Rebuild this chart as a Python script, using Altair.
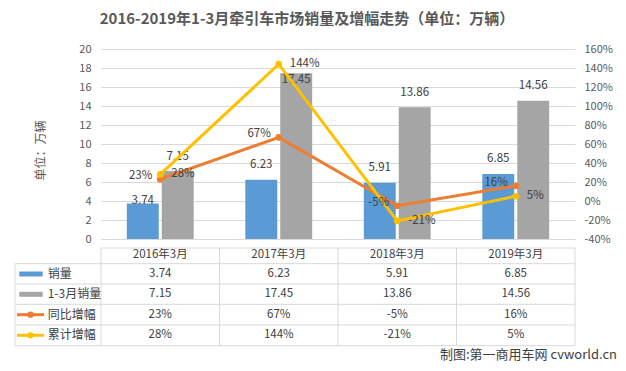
import altair as alt
import pandas as pd

# ---------------- data ----------------
categories = ["2016年3月", "2017年3月", "2018年3月", "2019年3月"]
sales_march = [3.74, 6.23, 5.91, 6.85]
sales_q1 = [7.15, 17.45, 13.86, 14.56]
growth_march = [23, 67, -5, 16]
growth_q1 = [28, 144, -21, 5]

bar_series = ["销量", "1-3月销量"]
line_series = ["同比增幅", "累计增幅"]
title_text = "2016-2019年1-3月牵引车市场销量及增幅走势（单位：万辆）"
y_title = "单位：万辆"
footer_text = "制图:第一商用车网 cvworld.cn"
left_ticks = [0, 2, 4, 6, 8, 10, 12, 14, 16, 18, 20]
right_ticks = [-40, -20, 0, 20, 40, 60, 80, 100, 120, 140, 160]

# ---------------- style ----------------
FONT = "Noto Sans CJK SC"
BLUE, GRAY, ORANGE, YELLOW = "#5B9BD5", "#A5A5A5", "#ED7D31", "#FFC000"
GRID = "#D9D9D9"
TXT = "#404040"
AX = "#595959"
W, H = 474, 190
LAB_FS = 11.5
CELL_FS = 11.5

bars_df = pd.DataFrame({
    "cat": categories * 2,
    "series": [bar_series[0]] * 4 + [bar_series[1]] * 4,
    "value": sales_march + sales_q1,
})
lines_df = pd.DataFrame({
    "cat": categories * 2,
    "series": [line_series[0]] * 4 + [line_series[1]] * 4,
    "pct": growth_march + growth_q1,
})
cat_df = pd.DataFrame({"cat": categories})

x_enc = alt.X("cat:N", scale=alt.Scale(domain=categories, paddingInner=0, paddingOuter=0), axis=None)
color_enc = alt.Color("series:N",
                      scale=alt.Scale(domain=bar_series + line_series, range=[BLUE, GRAY, ORANGE, YELLOW]),
                      legend=None)

# ---------------- bars ----------------
y_left = alt.Y("value:Q",
               scale=alt.Scale(domain=[0, 20], nice=False, zero=True),
               axis=alt.Axis(values=left_ticks, grid=True, gridColor=GRID, domain=False, ticks=False,
                             labelColor=AX, labelFontSize=11, labelPadding=10,
                             title=y_title, titleX=-61, titleY=101, titleAngle=270,
                             titleAlign="center", titleBaseline="middle", titleColor=AX,
                             titleFontSize=12, titleFontWeight="normal"))
xoff = alt.XOffset("series:N", scale=alt.Scale(domain=bar_series, paddingInner=0.0857, paddingOuter=0.739))

base_bar = alt.Chart(bars_df).encode(x=x_enc, xOffset=xoff, y=y_left)
bars = base_bar.mark_bar().encode(color=color_enc)

ex1 = f"datum.cat == '{categories[0]}' && datum.series == '{bar_series[0]}'"
ex2 = f"datum.cat == '{categories[1]}' && datum.series == '{bar_series[1]}'"
lab_style = dict(fontSize=LAB_FS, color=TXT, baseline="middle", align="center")
bar_labels = base_bar.mark_text(dy=-14.5, **lab_style).encode(
    text=alt.Text("value:Q", format=".2f")).transform_filter(f"!({ex1}) && !({ex2})")
bar_label_a = base_bar.mark_text(dy=-2, **lab_style).encode(
    text=alt.Text("value:Q", format=".2f")).transform_filter(ex1)
bar_label_b = base_bar.mark_text(dy=7, **lab_style).encode(
    text=alt.Text("value:Q", format=".2f")).transform_filter(ex2)

bar_group = alt.layer(bars, bar_labels, bar_label_a, bar_label_b)

# ---------------- lines ----------------
y_right = alt.Y("pct:Q",
                scale=alt.Scale(domain=[-40, 160], nice=False, zero=False),
                axis=alt.Axis(orient="right", values=right_ticks, labelExpr="datum.value + '%'",
                              grid=False, domain=False, ticks=False, labelColor=AX,
                              labelFontSize=11, labelPadding=9, title=None))
base_line = alt.Chart(lines_df).encode(x=x_enc, y=y_right, color=color_enc)
lines = base_line.mark_line(strokeWidth=3)
points = base_line.mark_circle(size=45, opacity=1)
pct_text = alt.Text("pct_label:N")
line_lab_a = base_line.mark_text(align="right", dx=-8, dy=-3, fontSize=LAB_FS, color=TXT, baseline="middle").encode(
    text=pct_text, color=alt.value(TXT)).transform_filter(
    f"datum.series == '{line_series[0]}'").transform_calculate(pct_label="datum.pct + '%'")
line_lab_b = base_line.mark_text(align="left", dx=11, dy=0, fontSize=LAB_FS, color=TXT, baseline="middle").encode(
    text=pct_text, color=alt.value(TXT)).transform_filter(
    f"datum.series == '{line_series[1]}'").transform_calculate(pct_label="datum.pct + '%'")

line_group = alt.layer(lines, points, line_lab_a, line_lab_b)

# ---------------- data table ----------------
row_header_y = 206
row_ys = [225, 245.3, 265.7, 286.3]
h_lines = [214.7, 235, 255.3, 276, 296.7]
table_top = 199
table_left = -86

layers = []
# horizontal lines
layers.append(alt.Chart(cat_df.head(1)).mark_rule(color=GRID, strokeWidth=1).encode(
    x=alt.value(0), x2=alt.value(W), y=alt.value(table_top)))
for hy in h_lines:
    layers.append(alt.Chart(cat_df.head(1)).mark_rule(color=GRID, strokeWidth=1).encode(
        x=alt.value(table_left), x2=alt.value(W), y=alt.value(hy)))
# vertical lines
layers.append(alt.Chart(cat_df).mark_rule(color=GRID, strokeWidth=1).encode(
    x=alt.X("cat:N", scale=alt.Scale(domain=categories, paddingInner=0, paddingOuter=0),
            axis=None, bandPosition=0),
    y=alt.value(table_top), y2=alt.value(h_lines[-1])))
layers.append(alt.Chart(cat_df.head(1)).mark_rule(color=GRID, strokeWidth=1).encode(
    x=alt.value(W), y=alt.value(table_top), y2=alt.value(h_lines[-1])))
layers.append(alt.Chart(cat_df.head(1)).mark_rule(color=GRID, strokeWidth=1).encode(
    x=alt.value(table_left), y=alt.value(h_lines[0]), y2=alt.value(h_lines[-1])))

cell_style = dict(fontSize=CELL_FS, color=TXT, baseline="middle", align="center")
# header
layers.append(alt.Chart(cat_df).mark_text(**cell_style).encode(
    x=x_enc, y=alt.value(row_header_y), text="cat:N"))
# value rows
layers.append(alt.Chart(bars_df).transform_filter(f"datum.series == '{bar_series[0]}'").mark_text(**cell_style).encode(
    x=x_enc, y=alt.value(row_ys[0]), text=alt.Text("value:Q", format=".2f")))
layers.append(alt.Chart(bars_df).transform_filter(f"datum.series == '{bar_series[1]}'").mark_text(**cell_style).encode(
    x=x_enc, y=alt.value(row_ys[1]), text=alt.Text("value:Q", format=".2f")))
layers.append(alt.Chart(lines_df).transform_filter(f"datum.series == '{line_series[0]}'").transform_calculate(
    pct_label="datum.pct + '%'").mark_text(**cell_style).encode(
    x=x_enc, y=alt.value(row_ys[2]), text="pct_label:N"))
layers.append(alt.Chart(lines_df).transform_filter(f"datum.series == '{line_series[1]}'").transform_calculate(
    pct_label="datum.pct + '%'").mark_text(**cell_style).encode(
    x=x_enc, y=alt.value(row_ys[3]), text="pct_label:N"))

# legend column
legend_names = bar_series + line_series
legend_colors = [BLUE, GRAY, ORANGE, YELLOW]
for i, (name, col) in enumerate(zip(legend_names, legend_colors)):
    ry = row_ys[i]
    one = pd.DataFrame({"name": [name]})
    if i < 2:
        layers.append(alt.Chart(one).mark_rect(color=col).encode(
            x=alt.value(-81.7), x2=alt.value(-58.3), y=alt.value(ry - 2.5), y2=alt.value(ry + 2.5)))
    else:
        layers.append(alt.Chart(one).mark_rule(color=col, strokeWidth=3).encode(
            x=alt.value(-84), x2=alt.value(-57), y=alt.value(ry)))
        layers.append(alt.Chart(one).mark_circle(color=col, size=40, opacity=1).encode(
            x=alt.value(-70.5), y=alt.value(ry)))
    layers.append(alt.Chart(one).mark_text(fontSize=12, color=TXT, align="left", baseline="middle").encode(
        x=alt.value(-53.3), y=alt.value(ry), text="name:N"))

# title and footer
layers.append(alt.Chart(pd.DataFrame({"t": [title_text]})).mark_text(
    fontSize=15, fontWeight="bold", color=AX, align="center", baseline="middle").encode(
    x=alt.value(206), y=alt.value(-30), text="t:N"))
layers.append(alt.Chart(pd.DataFrame({"t": [footer_text]})).mark_text(
    fontSize=13, color=TXT, align="right", baseline="middle").encode(
    x=alt.value(516), y=alt.value(305.5), text="t:N"))

chart = alt.layer(bar_group, line_group, *layers).resolve_scale(y="independent").properties(
    width=W, height=H,
    padding={"left": 93, "top": 41, "right": 43, "bottom": 124},
    autosize=alt.AutoSizeParams(type="none"),
    background="white",
).configure(font=FONT).configure_view(stroke=None).configure_axis(labelFont=FONT, titleFont=FONT)

chart.save("out.html", embed_options={"renderer": "svg", "actions": False})
